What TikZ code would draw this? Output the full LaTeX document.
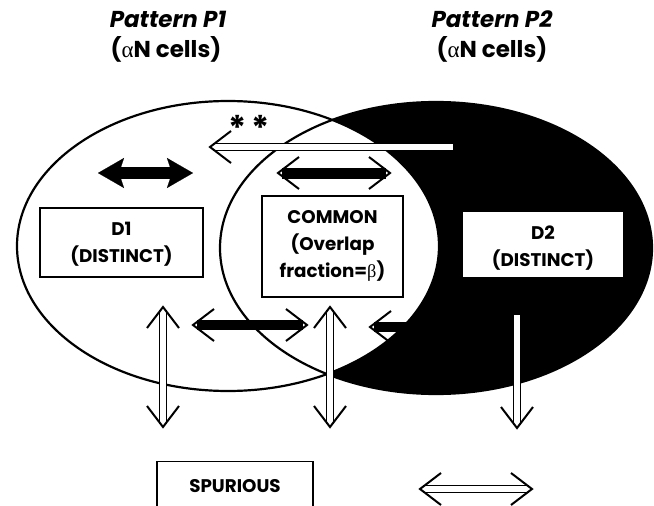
\documentclass[tikz,border=0pt]{standalone}
\usepackage{fontspec}
\setmainfont{Poppins}
\newfontfamily\grk{Liberation Serif}
\usetikzlibrary{arrows.meta}
\newcommand\mychev[3][]{\draw[chev,#1,shift={(#2)},rotate=#3] (-21,-16) -- (0,0) -- (-21,16);}
\begin{document}
\begin{tikzpicture}[x=1pt,y=-1pt,
  title/.style={font=\bfseries\fontsize{23}{27}\selectfont, align=center, inner sep=0pt},
  lbl/.style={font=\bfseries\fontsize{18.3}{27}\selectfont, align=center, inner sep=0pt},
  box/.style={draw=black, line width=1.3pt, fill=white, inner sep=0pt},
  hollow/.style={draw=black, line width=1pt, double=white, double distance=5.5pt},
  chev/.style={draw=black, line width=2pt, line join=miter, line cap=butt},
  bshaft/.style={draw=black, line width=11pt, line cap=butt},
  solidtips/.style={{Stealth[length=26pt,width=30pt,inset=5pt,line width=0.1pt]}-{Stealth[length=26pt,width=30pt,inset=5pt,line width=0.1pt]}},
  outline/.style={line width=2.2pt}
]
\useasboundingbox (0,0) rectangle (654,506);
\clip (0,0) rectangle (654,506);
\fill[white] (0,0) rectangle (654,506);

% titles
\node[title] (t1) at (168,19) {\itshape Pattern  P1};
\node[title] (t1b) at (166,49) {({\grk\mdseries α}N cells)};
\node[title] (t2) at (492,19) {\itshape Pattern  P2};
\node[title] (t2b) at (492,49) {({\grk\mdseries α}N cells)};

% ellipses
\fill[black] (436,248) ellipse [x radius=216pt, y radius=146pt];
\filldraw[fill=white, draw=black, outline] (228,246) ellipse [x radius=211pt, y radius=145pt];
\draw[outline] (436,248) ellipse [x radius=216pt, y radius=146pt];

% boxes
\node[box, minimum width=163pt, minimum height=69pt] (d1) at (121.5,242.5) {};
\node[lbl] at (121.5,244) {D1\\(DISTINCT)};
\node[box, minimum width=141pt, minimum height=101pt] (common) at (332.5,246.5) {};
\node[lbl] at (332.5,246) {COMMON\\(Overlap\\fraction={\grk\mdseries β})};
\node[box, draw=none, minimum width=160pt, minimum height=65pt] (d2) at (543,244.5) {};
\node[lbl] at (543,248) {D2\\(DISTINCT)};
\node[box, minimum width=156pt, minimum height=70pt, anchor=north] (spur) at (235,461) {};
\node[lbl] at (235,486) {SPURIOUS};

% stars
\node[font=\bfseries\fontsize{34}{34}\selectfont, inner sep=0pt] (stars) at (249,128) {*\,*};

% coordinates
\coordinate (la1) at (210,147); \coordinate (la2) at (453,147);
\coordinate (bd1) at (98,173); \coordinate (bd2) at (193,173);
\coordinate (ca1) at (278,173); \coordinate (ca2) at (390,173);
\coordinate (lo1) at (193,325); \coordinate (lo2) at (307,325);
\coordinate (ro1) at (370,327); \coordinate (ro2) at (450,327);
\coordinate (v1a) at (163,307); \coordinate (v1b) at (163,427);
\coordinate (v2a) at (330,307); \coordinate (v2b) at (330,427);
\coordinate (v3a) at (517,315); \coordinate (v3b) at (517,428);
\coordinate (h1) at (420,489); \coordinate (h2) at (532,489);

% long hollow arrow (left)
\draw[hollow] ([xshift=3pt]la1) -- (la2);
\mychev{la1}{180}

% solid black double arrow
\draw[line width=12pt, solidtips] (bd1) -- (bd2);

% black shaft arrows with open heads
\draw[bshaft] ([xshift=4pt]ca1) -- ([xshift=-4pt]ca2);
\mychev{ca1}{180} \mychev{ca2}{0}
\draw[bshaft, line width=10pt] ([xshift=4pt]lo1) -- ([xshift=-4pt]lo2);
\mychev{lo1}{180} \mychev{lo2}{0}
\draw[bshaft, line width=10pt] ([xshift=4pt]ro1) -- (ro2);
\mychev{ro1}{180}

% vertical hollow arrows
\draw[hollow] ([yshift=-3pt]v1a) -- ([yshift=3pt]v1b);
\mychev{v1a}{90} \mychev{v1b}{-90}
\draw[hollow] ([yshift=-3pt]v2a) -- ([yshift=3pt]v2b);
\mychev{v2a}{90} \mychev{v2b}{-90}
\draw[hollow] (v3a) -- ([yshift=3pt]v3b);
\mychev{v3b}{-90}

% bottom hollow double arrow
\draw[hollow] ([xshift=3pt]h1) -- ([xshift=-3pt]h2);
\mychev{h1}{180} \mychev{h2}{0}
\end{tikzpicture}
\end{document}
